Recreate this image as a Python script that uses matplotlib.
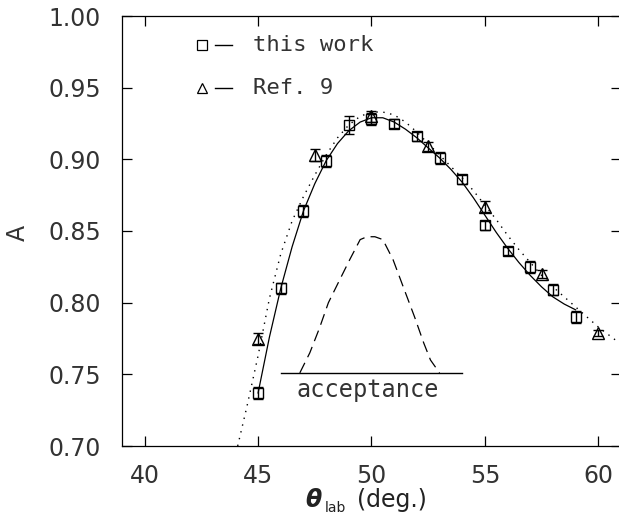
import matplotlib
matplotlib.use("Agg")
import matplotlib.pyplot as plt
import numpy as np

plt.rcParams['font.family'] = ['DejaVu Sans']
plt.rcParams['mathtext.fontset'] = 'dejavusans'

# this work (squares)
work_x = [45.0, 46.0, 47.0, 48.0, 49.0, 50.0, 51.0, 52.0, 53.0, 54.0, 55.0, 56.0, 57.0, 58.0, 59.0]
work_y = [0.737, 0.810, 0.864, 0.899, 0.924, 0.928, 0.925, 0.916, 0.901, 0.886, 0.854, 0.836, 0.825, 0.809, 0.790]
work_err = [0.004, 0.004, 0.004, 0.004, 0.006, 0.004, 0.003, 0.003, 0.004, 0.003, 0.003, 0.003, 0.004, 0.004, 0.004]

# Ref. 9 (triangles)
ref_x = [45.0, 47.5, 50.0, 52.5, 55.0, 57.5, 60.0]
ref_y = [0.775, 0.903, 0.930, 0.909, 0.867, 0.820, 0.779]
ref_err = [0.004, 0.004, 0.004, 0.003, 0.004, 0.003, 0.002]

# solid curve
solid_x = [45.0, 45.5, 46.0, 46.5, 47.0, 47.5, 48.0, 48.5, 49.0, 49.5, 50.0, 50.5, 51.0, 51.5, 52.0, 52.5, 53.0, 53.5,
           54.0, 54.5, 55.0, 55.5, 56.0, 56.5, 57.0, 57.5, 58.0, 58.5, 59.0]
solid_y = [0.737, 0.776, 0.810, 0.839, 0.864, 0.883, 0.899, 0.911, 0.920, 0.926, 0.929, 0.929, 0.926, 0.921, 0.915,
           0.908, 0.901, 0.893, 0.884, 0.873, 0.861, 0.849, 0.838, 0.828, 0.819, 0.811, 0.804, 0.799, 0.795]

# dotted curve
dot_x = [44.1, 44.5, 45.0, 45.5, 46.0, 46.5, 47.0, 47.5, 48.0, 48.5, 49.0, 49.5, 50.0, 50.5, 51.0, 51.5, 52.0, 52.5,
         53.0, 53.5, 54.0, 54.5, 55.0, 55.5, 56.0, 56.5, 57.0, 57.5, 58.0, 58.5, 59.0, 59.5, 60.0, 60.5, 61.0]
dot_y = [0.700, 0.727, 0.763, 0.803, 0.834, 0.857, 0.874, 0.889, 0.903, 0.915, 0.924, 0.930, 0.933, 0.933, 0.931,
         0.926, 0.919, 0.911, 0.903, 0.895, 0.887, 0.878, 0.868, 0.858, 0.847, 0.837, 0.828, 0.819, 0.811, 0.804,
         0.797, 0.790, 0.783, 0.777, 0.771]

# acceptance (dashed)
acc_x = [46.84, 47.28, 47.7, 48.1, 48.6, 49.04, 49.5, 49.8, 50.15, 50.5, 50.95, 51.4, 51.9, 52.3, 52.6, 53.0]
acc_y = [0.751, 0.765, 0.782, 0.800, 0.816, 0.830, 0.844, 0.846, 0.846, 0.844, 0.830, 0.811, 0.790, 0.772, 0.760, 0.751]
acc_base_x = [46.03, 54.0]
acc_base_y = [0.751, 0.751]

W, H = 619, 515
fig = plt.figure(figsize=(W / 100, H / 100), dpi=100)
ax = fig.add_axes([122 / W, (H - 446) / H, (621 - 122) / W, (446 - 16) / H])

ax.plot(solid_x, solid_y, color='black', lw=0.9)
ax.plot(dot_x, dot_y, color='black', lw=1.0, linestyle=(0, (1, 4)))
ax.plot(acc_x, acc_y, color='black', lw=0.9, linestyle=(0, (9, 5)))
ax.plot(acc_base_x, acc_base_y, color='black', lw=1.0)

ax.errorbar(work_x, work_y, yerr=work_err, fmt='s', mfc='none', mec='black', ms=7.5, mew=1.0,
            ecolor='black', elinewidth=1.0, capsize=3.6, capthick=1.0)
ax.errorbar(ref_x, ref_y, yerr=ref_err, fmt='^', mfc='none', mec='black', ms=8, mew=1.0,
            ecolor='black', elinewidth=1.0, capsize=3.6, capthick=1.0)

ax.set_xlim(39, 61)
ax.set_ylim(0.70, 1.00)
ax.set_xticks([40, 45, 50, 55, 60])
ax.set_yticks([0.70, 0.75, 0.80, 0.85, 0.90, 0.95, 1.00])
ax.set_yticklabels(['0.70', '0.75', '0.80', '0.85', '0.90', '0.95', '1.00'])
ax.tick_params(direction='in', length=7, width=0.9, top=True, right=True,
               labelsize=17, labelcolor='#333333')
ax.tick_params(axis='x', pad=13)
ax.tick_params(axis='y', pad=15)
for s in ax.spines.values():
    s.set_linewidth(0.9)

ax.text(46.7, 0.734, 'acceptance', fontsize=17, family='DejaVu Sans Mono', color='#333333',
        va='baseline', ha='left')

# legend
ax.plot([42.51], [0.9798], marker='s', mfc='none', mec='black', ms=7, mew=0.9)
ax.plot([43.10, 43.84], [0.9798, 0.9798], color='black', lw=1.0)
ax.text(44.77, 0.9798, 'this work', fontsize=16, family='DejaVu Sans Mono', color='#333333', va='center')
ax.plot([42.51], [0.9497], marker='^', mfc='none', mec='black', ms=7, mew=0.9)
ax.plot([43.10, 43.84], [0.9497, 0.9497], color='black', lw=1.0)
ax.text(44.77, 0.9497, 'Ref. 9', fontsize=16, family='DejaVu Sans Mono', color='#333333', va='center')

fig.text(18 / W, 1 - 233 / H, 'A', rotation=90, fontsize=17, color='#333333', ha='center', va='center')
fig.text(305 / W, 1 - 507 / H, r'$\boldsymbol{\theta}$', fontsize=17, color='#222222',
         ha='left', va='baseline')
fig.text(325 / W, 1 - 512 / H, 'lab', fontsize=10, color='#222222', ha='left', va='baseline')
fig.text(357 / W, 1 - 500 / H, '(deg.)', fontsize=17, color='#222222', ha='left', va='center')

fig.savefig('out.png', dpi=100)
